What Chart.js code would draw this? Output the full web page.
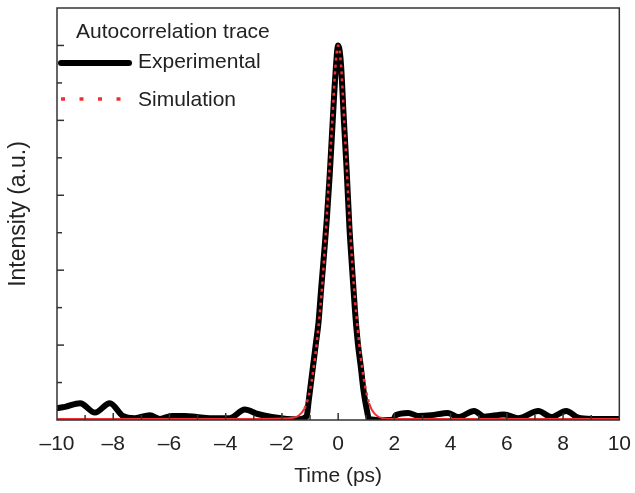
<!DOCTYPE html>
<html>
<head>
<meta charset="utf-8">
<script src="https://cdn.jsdelivr.net/npm/chart.js@4"></script>
<style>
  html, body { margin: 0; padding: 0; background: #fff; }
  #contenedor { width: 635px; height: 493px; }
</style>
</head>
<body>
<div id="contenedor"><canvas id="autocorrelacion"></canvas></div>
<script>
// Experimental trace (time in ps, intensity a.u.)
const tiempoExp = [-10, -9.72, -9.18, -8.65, -8.12, -7.66, -7.23, -6.7, -6.34, -5.91, -5.45, -5.03, -4.56, -3.85,
    -3.32, -2.86, -2.36, -1.83, -1.4, -1.12, -1.05, -1.0, -0.9, -0.8, -0.7, -0.6, -0.5, -0.4, -0.3, -0.2, -0.1, 0,
    0.1, 0.2, 0.3, 0.4, 0.5, 0.6, 0.7, 0.8, 0.9, 1.0, 1.1, 1.5, 1.95, 2.05, 2.49, 2.85, 3.31, 3.91, 4.27, 4.84,
    5.2, 5.9, 6.4, 7.12, 7.58, 8.11, 8.54, 9.0, 9.96];
const intensidadExp = [0.032, 0.035, 0.045, 0.02, 0.045, 0.011, 0.005, 0.013, 0.003, 0.011, 0.011, 0.008, 0.005, 0.005,
    0.028, 0.016, 0.008, 0.003, 0.002, 0.01, 0.05, 0.08, 0.14, 0.2, 0.26, 0.355, 0.445, 0.54, 0.655, 0.79, 0.92, 1.0,
    0.95, 0.805, 0.67, 0.515, 0.4, 0.29, 0.205, 0.145, 0.08, 0.035, 0.003, 0.0, 0.0, 0.013, 0.019, 0.011, 0.013, 0.019, 0.008, 0.024,
    0.009, 0.015, 0.005, 0.024, 0.008, 0.024, 0.006, 0.003, 0.003];

// Simulated trace
const tiempoSim = [-10, -3, -2, -1.6, -1.4, -1.2, -1.1, -1.0, -0.9, -0.8, -0.7, -0.6, -0.5, -0.4, -0.3, -0.2, -0.1, 0,
    0.1, 0.2, 0.3, 0.4, 0.5, 0.6, 0.7, 0.8, 0.9, 1.0, 1.1, 1.2, 1.4, 1.6, 2, 3, 10];
const intensidadSim = [0.003, 0.003, 0.004, 0.006, 0.012, 0.03, 0.05, 0.08, 0.125, 0.18, 0.25, 0.33, 0.43, 0.55, 0.68,
    0.81, 0.94, 1.0, 0.95, 0.82, 0.68, 0.54, 0.42, 0.32, 0.24, 0.17, 0.115, 0.075, 0.045, 0.027, 0.01, 0.005, 0.003,
    0.003, 0.003];

const etiquetasLeyenda = ['Autocorrelation trace', 'Experimental', 'Simulation'];

const fuente = "'Liberation Sans', Arial, sans-serif";
const colorTexto = '#222';

function aPuntos(xs, ys) {
    return xs.map((x, i) => ({ x: x, y: ys[i] }));
}

// tick marks pointing inwards, frame and legend
const marcasYLeyenda = {
    id: 'marcasYLeyenda',
    afterDraw(chart) {
        const ctx = chart.ctx;
        const area = chart.chartArea;
        const ejeX = chart.scales.x;
        const ejeY = chart.scales.y;

        ctx.save();
        ctx.strokeStyle = '#333';
        ctx.lineWidth = 1.5;
        ejeX.ticks.forEach(t => {
            if (t.value <= -10 || t.value >= 10) return;
            const px = ejeX.getPixelForValue(t.value);
            const largo = t.value % 2 === 0 ? 7 : 5;
            ctx.beginPath();
            ctx.moveTo(px, area.bottom);
            ctx.lineTo(px, area.bottom - largo);
            ctx.stroke();
        });
        ejeY.ticks.forEach(t => {
            const n = Math.round(t.value * 10);
            if (n <= 0 || n >= 11) return;
            const py = ejeY.getPixelForValue(t.value);
            const largo = n % 2 === 0 ? 7 : 5;
            ctx.beginPath();
            ctx.moveTo(area.left, py);
            ctx.lineTo(area.left + largo, py);
            ctx.stroke();
        });
        ctx.strokeRect(area.left, area.top, area.right - area.left, area.bottom - area.top);

        // leyenda
        ctx.fillStyle = colorTexto;
        ctx.font = '21px ' + fuente;
        ctx.textBaseline = 'middle';
        ctx.textAlign = 'left';
        ctx.fillText(etiquetasLeyenda[0], 76, 32);

        ctx.lineCap = 'round';
        ctx.strokeStyle = '#000';
        ctx.lineWidth = 6;
        ctx.beginPath();
        ctx.moveTo(61, 63);
        ctx.lineTo(129, 63);
        ctx.stroke();
        ctx.fillText(etiquetasLeyenda[1], 138, 62);

        ctx.lineCap = 'butt';
        ctx.strokeStyle = '#f03030';
        ctx.lineWidth = 3.5;
        ctx.setLineDash([4, 14.5]);
        ctx.beginPath();
        ctx.moveTo(61, 99);
        ctx.lineTo(122, 99);
        ctx.stroke();
        ctx.setLineDash([]);
        ctx.fillText(etiquetasLeyenda[2], 138, 100);
        ctx.restore();
    }
};

function crearGrafico() {
    const ctx = document.getElementById('autocorrelacion').getContext('2d');

    new Chart(ctx, {
        type: 'line',
        data: {
            datasets: [{
                label: etiquetasLeyenda[2],
                data: aPuntos(tiempoSim, intensidadSim),
                borderColor: '#f03030',
                borderWidth: 2.5,
                borderDash: [3, 4],
                pointRadius: 0,
                cubicInterpolationMode: 'monotone',
                order: 0,
                segment: {
                    borderDash: c => (c.p0.parsed.y < 0.05 && c.p1.parsed.y < 0.05) ? [] : [3, 4],
                    borderWidth: c => (c.p0.parsed.y < 0.05 && c.p1.parsed.y < 0.05) ? 2 : 2.5
                }
            }, {
                label: etiquetasLeyenda[1],
                data: aPuntos(tiempoExp, intensidadExp),
                borderColor: '#000',
                borderWidth: 6,
                borderCapStyle: 'round',
                borderJoinStyle: 'round',
                pointRadius: 0,
                cubicInterpolationMode: 'monotone',
                order: 1
            }]
        },
        options: {
            responsive: true,
            maintainAspectRatio: false,
            animation: false,
            layout: { padding: { top: 8, right: 10, left: 0, bottom: 0 } },
            plugins: {
                legend: { display: false },
                tooltip: { enabled: false }
            },
            scales: {
                x: {
                    type: 'linear',
                    min: -10,
                    max: 10,
                    afterFit: scale => { scale.height = 73; },
                    border: { display: false },
                    grid: { display: false },
                    ticks: {
                        stepSize: 1,
                        autoSkip: false,
                        maxRotation: 0,
                        padding: 4,
                        color: colorTexto,
                        font: { family: fuente, size: 21 },
                        callback: v => v % 2 === 0 ? (v < 0 ? '\u2013' + Math.abs(v) : String(v)) : ''
                    },
                    title: {
                        display: true,
                        text: 'Time (ps)',
                        color: colorTexto,
                        font: { family: fuente, size: 21 },
                        padding: { top: 4, bottom: 4 }
                    }
                },
                y: {
                    min: 0,
                    max: 1.1,
                    afterFit: scale => { scale.width = 57; },
                    border: { display: false },
                    grid: { display: false },
                    ticks: { display: false, stepSize: 0.1 },
                    title: {
                        display: true,
                        text: 'Intensity (a.u.)',
                        color: colorTexto,
                        font: { family: fuente, size: 23 },
                        padding: { top: 5, bottom: 4 }
                    }
                }
            }
        },
        plugins: [marcasYLeyenda]
    });
}

crearGrafico();
</script>
</body>
</html>
